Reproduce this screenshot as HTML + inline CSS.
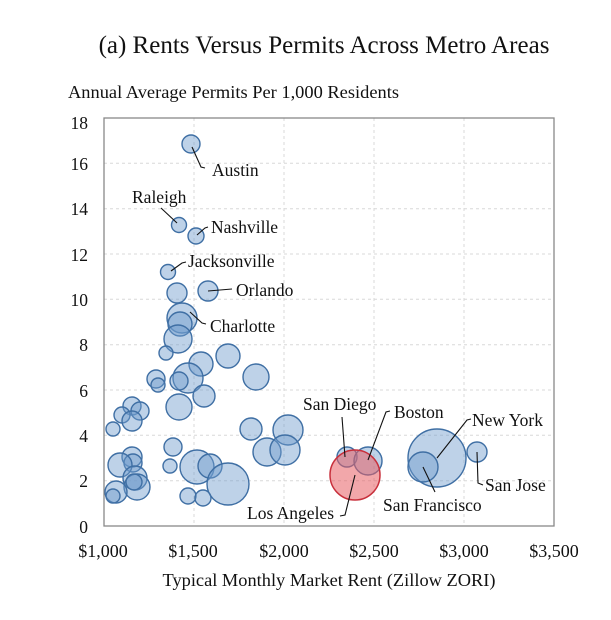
<!DOCTYPE html>
<html><head><meta charset="utf-8"><style>
html,body{margin:0;padding:0;background:#fff;}
svg{display:block;font-family:"Liberation Serif",serif;}
</style></head><body>
<svg width="611" height="620" viewBox="0 0 611 620" xmlns="http://www.w3.org/2000/svg">
<text x="324" y="53" font-size="25" text-anchor="middle" fill="#111">(a) Rents Versus Permits Across Metro Areas</text>
<text x="68" y="98" font-size="18" fill="#111" textLength="331" lengthAdjust="spacingAndGlyphs">Annual Average Permits Per 1,000 Residents</text>
<g stroke="#d8d8d8" stroke-width="1" stroke-dasharray="3,3">
<line x1="104" y1="480.7" x2="554" y2="480.7"/><line x1="104" y1="435.3" x2="554" y2="435.3"/>
<line x1="104" y1="390" x2="554" y2="390"/><line x1="104" y1="344.7" x2="554" y2="344.7"/>
<line x1="104" y1="299.3" x2="554" y2="299.3"/><line x1="104" y1="254" x2="554" y2="254"/>
<line x1="104" y1="208.7" x2="554" y2="208.7"/><line x1="104" y1="163.3" x2="554" y2="163.3"/>
<line x1="194" y1="118" x2="194" y2="526"/><line x1="284" y1="118" x2="284" y2="526"/>
<line x1="374" y1="118" x2="374" y2="526"/><line x1="464" y1="118" x2="464" y2="526"/>
</g>
<rect x="104" y="118" width="450" height="408" fill="none" stroke="#888" stroke-width="1.3"/>
<g font-size="17.5" fill="#111" text-anchor="end">
<text x="88" y="533">0</text><text x="88" y="487">2</text><text x="88" y="442">4</text><text x="88" y="397">6</text><text x="88" y="351">8</text><text x="88" y="306">10</text><text x="88" y="261">12</text><text x="88" y="215">14</text><text x="88" y="170">16</text><text x="88" y="129">18</text>
</g>
<g font-size="18" fill="#111" text-anchor="middle">
<text x="103" y="557">$1,000</text><text x="193" y="557">$1,500</text><text x="284" y="557">$2,000</text><text x="374" y="557">$2,500</text><text x="464" y="557">$3,000</text><text x="554" y="557">$3,500</text>
</g>
<text x="329" y="586" font-size="18" text-anchor="middle" fill="#111" textLength="333" lengthAdjust="spacingAndGlyphs">Typical Monthly Market Rent (Zillow ZORI)</text>
<g fill="rgba(110,155,205,0.45)" stroke="#3f6fa4" stroke-width="1.4">
<circle cx="191" cy="144" r="9"/><circle cx="179" cy="225" r="7.5"/><circle cx="196" cy="236" r="8"/>
<circle cx="168" cy="272" r="7.5"/><circle cx="208" cy="291" r="10"/><circle cx="177" cy="293" r="10"/>
<circle cx="182" cy="318" r="15"/><circle cx="180" cy="324" r="12"/><circle cx="178" cy="339" r="14"/>
<circle cx="166" cy="353" r="7"/><circle cx="228" cy="356" r="12"/><circle cx="201" cy="364" r="12"/>
<circle cx="188" cy="378" r="15"/><circle cx="179" cy="381" r="9"/><circle cx="156" cy="379" r="9"/>
<circle cx="158" cy="385" r="7"/><circle cx="256" cy="377" r="13"/><circle cx="204" cy="396" r="11"/>
<circle cx="179" cy="407" r="13"/><circle cx="132" cy="406" r="9"/><circle cx="140" cy="411" r="9"/>
<circle cx="122" cy="415" r="8"/><circle cx="132" cy="421" r="10"/><circle cx="113" cy="429" r="7"/>
<circle cx="251" cy="429" r="11"/><circle cx="288" cy="430" r="15"/><circle cx="267" cy="452" r="14"/>
<circle cx="285" cy="450" r="15"/><circle cx="173" cy="447" r="9"/><circle cx="170" cy="466" r="7"/>
<circle cx="132" cy="457" r="10"/><circle cx="133" cy="463" r="9"/><circle cx="120" cy="465" r="12"/>
<circle cx="197" cy="467" r="17"/><circle cx="210" cy="466" r="12"/><circle cx="228" cy="484" r="21"/>
<circle cx="135" cy="478" r="12"/><circle cx="137" cy="487" r="13"/><circle cx="134" cy="482" r="8"/><circle cx="116" cy="492" r="11"/>
<circle cx="113" cy="496" r="7"/><circle cx="188" cy="496" r="8"/><circle cx="203" cy="498" r="8"/>
<circle cx="347" cy="457" r="10"/><circle cx="368" cy="461" r="14"/>
<circle cx="437" cy="458" r="29"/><circle cx="423" cy="467" r="15"/><circle cx="477" cy="452" r="10"/>
</g>
<circle cx="355" cy="475" r="25" fill="rgba(232,95,100,0.55)" stroke="#c8303c" stroke-width="1.5"/>
<g fill="none" stroke="#111" stroke-width="1.1">
<polyline points="192,147 201,167 205,168"/><polyline points="161,208 177,223"/>
<polyline points="197,235 205,228 208,227"/><polyline points="171,271 182,263 186,262"/>
<polyline points="208,291 232,289"/><polyline points="190,312 202,323 206,324"/>
<polyline points="342,417 345,457"/><polyline points="390,411 386,412 368,460"/>
<polyline points="471,419 467,420 437,458"/><polyline points="477,452 478,483 483,485"/>
<polyline points="423,467 435,492"/><polyline points="355,475 345,515 340,516"/>
</g>
<g font-size="17.5" fill="#111">
<text x="212" y="176">Austin</text><text x="132" y="203">Raleigh</text><text x="211" y="233">Nashville</text>
<text x="188" y="267">Jacksonville</text><text x="236" y="296">Orlando</text><text x="210" y="332">Charlotte</text>
<text x="303" y="410">San Diego</text><text x="394" y="418">Boston</text><text x="472" y="426">New York</text>
<text x="485" y="491">San Jose</text><text x="383" y="511">San Francisco</text><text x="247" y="519">Los Angeles</text>
</g>
</svg>
</body></html>
